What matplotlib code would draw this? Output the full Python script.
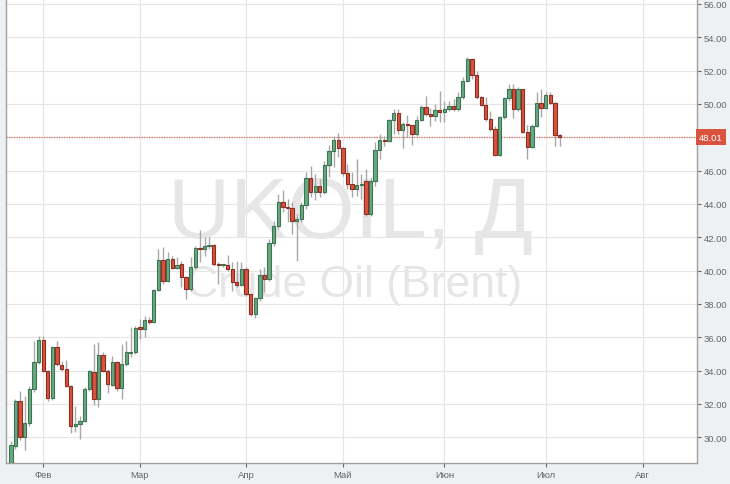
import numpy as np
import matplotlib
matplotlib.use('Agg')
from matplotlib import pyplot as plt
import matplotlib.transforms as mtransforms

# UKOIL daily candles, 21 Jan 2016 - 6 Jul 2016
opens = [28.40, 29.50, 32.16, 30.00, 30.85, 32.88, 34.49, 35.84, 33.97, 32.38,
         35.44, 34.37, 34.09, 33.08, 30.67, 30.80, 31.00, 32.88, 33.93, 32.28,
         34.93, 33.99, 33.16, 34.50, 32.94, 34.40, 35.05, 35.10, 36.62, 36.50,
         37.02, 36.94, 38.82, 40.66, 39.36, 40.72, 40.16, 40.38, 39.62, 38.88,
         40.22, 41.38, 41.32, 41.46, 41.56, 40.38, 40.32, 40.34, 40.12, 39.32,
         39.16, 40.08, 38.58, 37.42, 38.36, 39.72, 39.52, 41.68, 42.68, 44.12,
         43.80, 43.76, 42.97, 43.07, 43.92, 45.55, 44.70, 45.08, 44.74, 46.36,
         47.20, 47.86, 47.36, 45.86, 45.18, 44.88, 45.16, 45.38, 43.42, 45.38,
         47.22, 47.86, 47.80, 49.02, 49.46, 48.42, 48.78, 48.72, 48.22, 49.06,
         49.82, 49.42, 49.30, 49.66, 49.52, 49.68, 49.88, 49.72, 50.42, 51.38,
         52.68, 51.72, 50.42, 49.92, 49.12, 48.52, 46.96, 49.22, 50.36, 50.88,
         49.68, 50.88, 48.32, 47.42, 48.68, 50.08, 49.76, 50.52, 50.08, 48.12]
highs = [29.75, 32.30, 32.76, 32.50, 33.10, 35.80, 36.10, 36.10, 34.05, 35.50,
         35.78, 34.60, 34.63, 33.15, 31.88, 31.30, 33.00, 34.05, 35.58, 35.70,
         35.10, 34.10, 34.90, 34.60, 35.60, 35.80, 36.60, 36.70, 37.10, 37.30,
         37.20, 38.90, 41.30, 41.40, 41.10, 40.90, 40.80, 40.56, 39.70, 40.80,
         41.50, 42.42, 42.00, 42.00, 41.60, 40.50, 40.40, 40.96, 40.52, 40.60,
         40.50, 40.20, 38.60, 38.40, 40.10, 40.20, 41.90, 43.00, 44.60, 44.85,
         44.30, 44.10, 43.40, 44.10, 45.90, 46.25, 45.80, 45.50, 46.60, 47.55,
         48.10, 48.27, 47.40, 46.40, 45.90, 46.70, 45.80, 46.10, 45.60, 47.70,
         48.20, 48.10, 49.10, 49.68, 49.72, 48.90, 49.32, 48.76, 49.30, 49.95,
         50.46, 49.76, 50.00, 50.76, 50.20, 50.20, 50.30, 50.70, 51.60, 52.80,
         52.76, 52.00, 50.50, 50.40, 49.60, 48.70, 49.30, 50.40, 51.22, 51.20,
         51.00, 50.90, 48.76, 48.80, 50.72, 50.92, 50.70, 50.72, 50.10, 48.20]
lows = [28.30, 29.30, 29.85, 29.26, 30.70, 32.70, 34.40, 33.90, 32.20, 32.26,
        34.30, 34.00, 33.00, 30.27, 30.30, 29.90, 30.90, 32.80, 31.96, 31.80,
        33.90, 32.66, 33.10, 32.80, 32.30, 34.30, 34.80, 35.00, 35.90, 36.00,
        36.80, 36.84, 38.76, 39.20, 39.30, 40.10, 40.10, 39.00, 38.30, 38.80,
        40.10, 40.50, 40.90, 41.30, 40.30, 39.20, 40.20, 40.00, 38.80, 39.00,
        39.10, 38.50, 37.28, 37.15, 38.20, 38.70, 39.40, 41.50, 42.50, 43.50,
        42.90, 42.20, 40.55, 42.90, 43.70, 44.40, 44.25, 44.40, 44.60, 45.60,
        46.20, 46.80, 45.70, 44.90, 44.40, 44.50, 44.30, 43.30, 43.30, 45.10,
        46.70, 47.50, 47.70, 48.20, 48.20, 47.36, 48.00, 47.52, 48.10, 48.96,
        49.30, 48.70, 48.98, 48.90, 48.90, 49.60, 49.60, 49.60, 50.30, 51.30,
        51.50, 50.30, 49.88, 49.00, 48.40, 46.90, 46.90, 49.10, 50.20, 49.16,
        49.60, 48.26, 46.72, 47.36, 48.60, 49.22, 49.70, 50.00, 47.48, 47.48]
closes = [29.55, 32.18, 30.00, 30.85, 32.88, 34.49, 35.84, 33.97, 32.38, 35.44,
          34.37, 34.09, 33.08, 30.67, 30.80, 31.00, 32.88, 33.97, 32.28, 34.93,
          33.99, 33.18, 34.50, 32.94, 34.40, 35.10, 35.12, 36.56, 36.50, 37.02,
          36.94, 38.82, 40.66, 39.36, 40.72, 40.16, 40.36, 39.62, 38.88, 40.22,
          41.38, 41.32, 41.46, 41.56, 40.38, 40.32, 40.34, 40.12, 39.32, 39.16,
          40.08, 38.58, 37.42, 38.36, 39.72, 39.52, 41.68, 42.68, 44.12, 43.80,
          43.76, 42.97, 43.07, 43.92, 45.55, 44.70, 45.08, 44.74, 46.36, 47.20,
          47.86, 47.36, 45.86, 45.18, 44.88, 45.16, 45.22, 43.42, 45.38, 47.22,
          47.86, 47.80, 49.02, 49.46, 48.42, 48.78, 48.72, 48.22, 49.06, 49.82,
          49.42, 49.30, 49.66, 49.52, 49.68, 49.88, 49.72, 50.42, 51.38, 52.68,
          51.72, 50.42, 49.92, 49.12, 48.52, 46.96, 49.22, 50.36, 50.88, 49.68,
          50.88, 48.32, 47.42, 48.68, 50.08, 49.76, 50.52, 50.08, 48.12, 48.01]

month_labels = ['Фев', 'Мар', 'Апр', 'Май', 'Июн', 'Июл', 'Авг']
month_pos = [7, 28, 51, 72, 94, 116, 137]
price_ticks = np.arange(30, 57, 2)
last_price = 48.01

plt.rcParams['font.family'] = ['Liberation Sans', 'DejaVu Sans']

fig = plt.figure(figsize=(7.3, 4.85), dpi=100)
fig.patch.set_facecolor('#eef1f4')
ax = fig.add_axes([6 / 730, 21 / 485, 691 / 730, 464 / 485])
ax.set_facecolor('white')

o = np.array(opens)
h = np.array(highs)
l = np.array(lows)
c = np.array(closes)
x = np.arange(len(o))
up = c >= o

green, green_edge = '#68a982', '#3d7453'
red, red_edge = '#d9533f', '#8f2d20'

ax.vlines(x, l, h, color='#a8a8a8', lw=1, zorder=2)
bottom = np.minimum(o, c)
height = np.maximum(np.abs(c - o), 0.06)
ax.bar(x[up], height[up], bottom=bottom[up], width=0.72,
       color=green, edgecolor=green_edge, linewidth=0.8, zorder=3)
ax.bar(x[~up], height[~up], bottom=bottom[~up], width=0.72,
       color=red, edgecolor=red_edge, linewidth=0.8, zorder=3)

# watermark
ax.text(0.498, 0.535, 'UKOIL, Д', transform=ax.transAxes, fontsize=62,
        color='#e6e6e6', ha='center', va='center', zorder=0)
ax.text(0.503, 0.385, 'Crude Oil (Brent)', transform=ax.transAxes, fontsize=32,
        color='#e6e6e6', ha='center', va='center', zorder=0)

# last price line
ax.axhline(last_price, color='#e0675a', lw=0.9, ls=(0, (1, 1)), zorder=1)
trans = mtransforms.blended_transform_factory(ax.transAxes, ax.transData)
ax.text(1.003, last_price, f'{last_price:.2f}', transform=trans, fontsize=6.8,
        color='white', ha='left', va='center', zorder=5,
        bbox=dict(boxstyle='square,pad=0.35', fc='#d9533f', ec='none'))

ax.set_xlim(-1.06, 148.8)
ax.set_ylim(28.46, 56.3)

ax.yaxis.tick_right()
ax.set_yticks(price_ticks)
# the 48.00 label sits under the last-price box
ax.set_yticklabels(['' if v == 48 else f'{v:.2f}' for v in price_ticks])
ax.set_xticks(month_pos)
ax.set_xticklabels(month_labels)
ax.tick_params(axis='both', labelsize=6.8, colors='#666666', length=3,
               width=0.8, direction='out')
ax.tick_params(axis='y', pad=2)
ax.tick_params(axis='x', pad=2)
ax.grid(True, color='#e6e6e6', lw=0.8, zorder=0)
ax.set_axisbelow(True)

ax.spines['top'].set_visible(False)
for side in ['left', 'right', 'bottom']:
    ax.spines[side].set_color('#a0a0a0')
    ax.spines[side].set_linewidth(1)

fig.savefig('out.png', dpi=100, facecolor=fig.get_facecolor())
plt.close(fig)
